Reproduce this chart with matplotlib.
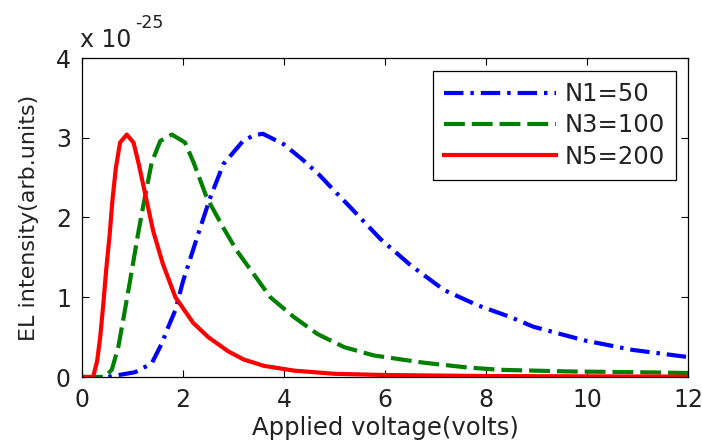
import matplotlib
matplotlib.use("Agg")
import matplotlib.pyplot as plt

# readings, intensity in units of 1e-25
v_n1 = [0, 0.5, 1.05, 1.38, 1.58, 1.71, 1.85, 2.0, 2.34, 2.54, 2.8, 3.19, 3.4, 3.58,
        3.99, 4.36, 4.69, 4.99, 5.25, 5.52, 5.91, 6.51, 7.17, 7.83, 8.49, 8.94, 9.94,
        10.9, 12]
el_n1 = [0, 0, 0.06, 0.17, 0.42, 0.63, 0.84, 1.2, 1.87, 2.25, 2.67, 2.96, 3.03, 3.05,
         2.92, 2.73, 2.54, 2.34, 2.17, 1.99, 1.73, 1.4, 1.09, 0.90, 0.75, 0.63, 0.46,
         0.34, 0.25]

v_n3 = [0, 0.45, 0.59, 0.72, 0.85, 0.95, 1.12, 1.22, 1.38, 1.55, 1.78, 2.04, 2.21,
        2.47, 2.8, 3.07, 3.4, 3.73, 4.2, 4.66, 5.19, 5.78, 6.76, 7.62, 8.28, 9.6, 11, 12]
el_n3 = [0, 0, 0.09, 0.38, 0.84, 1.2, 1.83, 2.17, 2.69, 2.96, 3.04, 2.94, 2.69,
         2.25, 1.87, 1.58, 1.29, 1.0, 0.75, 0.54, 0.375, 0.27, 0.18, 0.12, 0.09, 0.07, 0.06, 0.05]

v_n5 = [0, 0.22, 0.3, 0.36, 0.42, 0.48, 0.55, 0.6, 0.67, 0.754, 0.886, 1.02, 1.12,
        1.25, 1.41, 1.6, 1.85, 2.2, 2.5, 2.9, 3.2, 3.6, 4.2, 5.0, 6.0, 8.0, 10.0, 12.0]
el_n5 = [0, 0, 0.2, 0.5, 0.9, 1.35, 1.8, 2.2, 2.62, 2.94, 3.04, 2.94, 2.68,
         2.3, 1.83, 1.42, 1.0, 0.68, 0.5, 0.32, 0.22, 0.14, 0.08, 0.04, 0.025, 0.012, 0.008, 0.005]

labels = ["N1=50", "N3=100", "N5=200"]
xticks = [0, 2, 4, 6, 8, 10, 12]
yticks = [0, 1, 2, 3, 4]

plt.rcParams["font.family"] = ["DejaVu Sans"]
plt.rcParams["lines.scale_dashes"] = False

fig = plt.figure(figsize=(7.02, 4.44), dpi=100)
ax = fig.add_axes([82 / 702, 1 - 377 / 444, 606 / 702, 319 / 444])

ax.plot(v_n1, el_n1, color=(0, 0, 1), lw=3, dashes=[14, 5, 2.5, 5], label=labels[0])
ax.plot(v_n3, el_n3, color=(0, 0.5, 0), lw=3, dashes=[15, 5], label=labels[1])
ax.plot(v_n5, el_n5, color=(1, 0, 0), lw=3, label=labels[2])

ax.set_xlim(0, 12)
ax.set_ylim(0, 4)
ax.set_xticks(xticks)
ax.set_yticks(yticks)
ax.tick_params(direction="in", length=5, width=0.8, top=True, right=True,
               labelsize=17, pad=8, colors="black")
ax.tick_params(axis="x", labelcolor="#222222")
ax.tick_params(axis="y", labelcolor="#222222")
for s in ax.spines.values():
    s.set_linewidth(0.9)

ax.set_xlabel("Applied voltage(volts)", fontsize=17.5, labelpad=3, color="#222222")
ax.set_ylabel("EL intensity(arb.units)", fontsize=16, labelpad=12, color="#222222")

fig.text(80 / 702, 1 - 47 / 444, "x 10", fontsize=17, color="#222222",
         ha="left", va="baseline")
fig.text(135 / 702, 1 - 28 / 444, "-25", fontsize=12.5, color="#222222",
         ha="left", va="baseline")

leg = ax.legend(loc="upper right", bbox_to_anchor=(0.980, 0.959), borderaxespad=0,
                fontsize=17.5, handlelength=4.6, handletextpad=0.35, labelspacing=0.3,
                borderpad=0.45, fancybox=False, framealpha=1, edgecolor="black")
leg.get_frame().set_linewidth(0.9)
for t in leg.get_texts():
    t.set_color("#222222")

fig.savefig("out.png", dpi=100)
